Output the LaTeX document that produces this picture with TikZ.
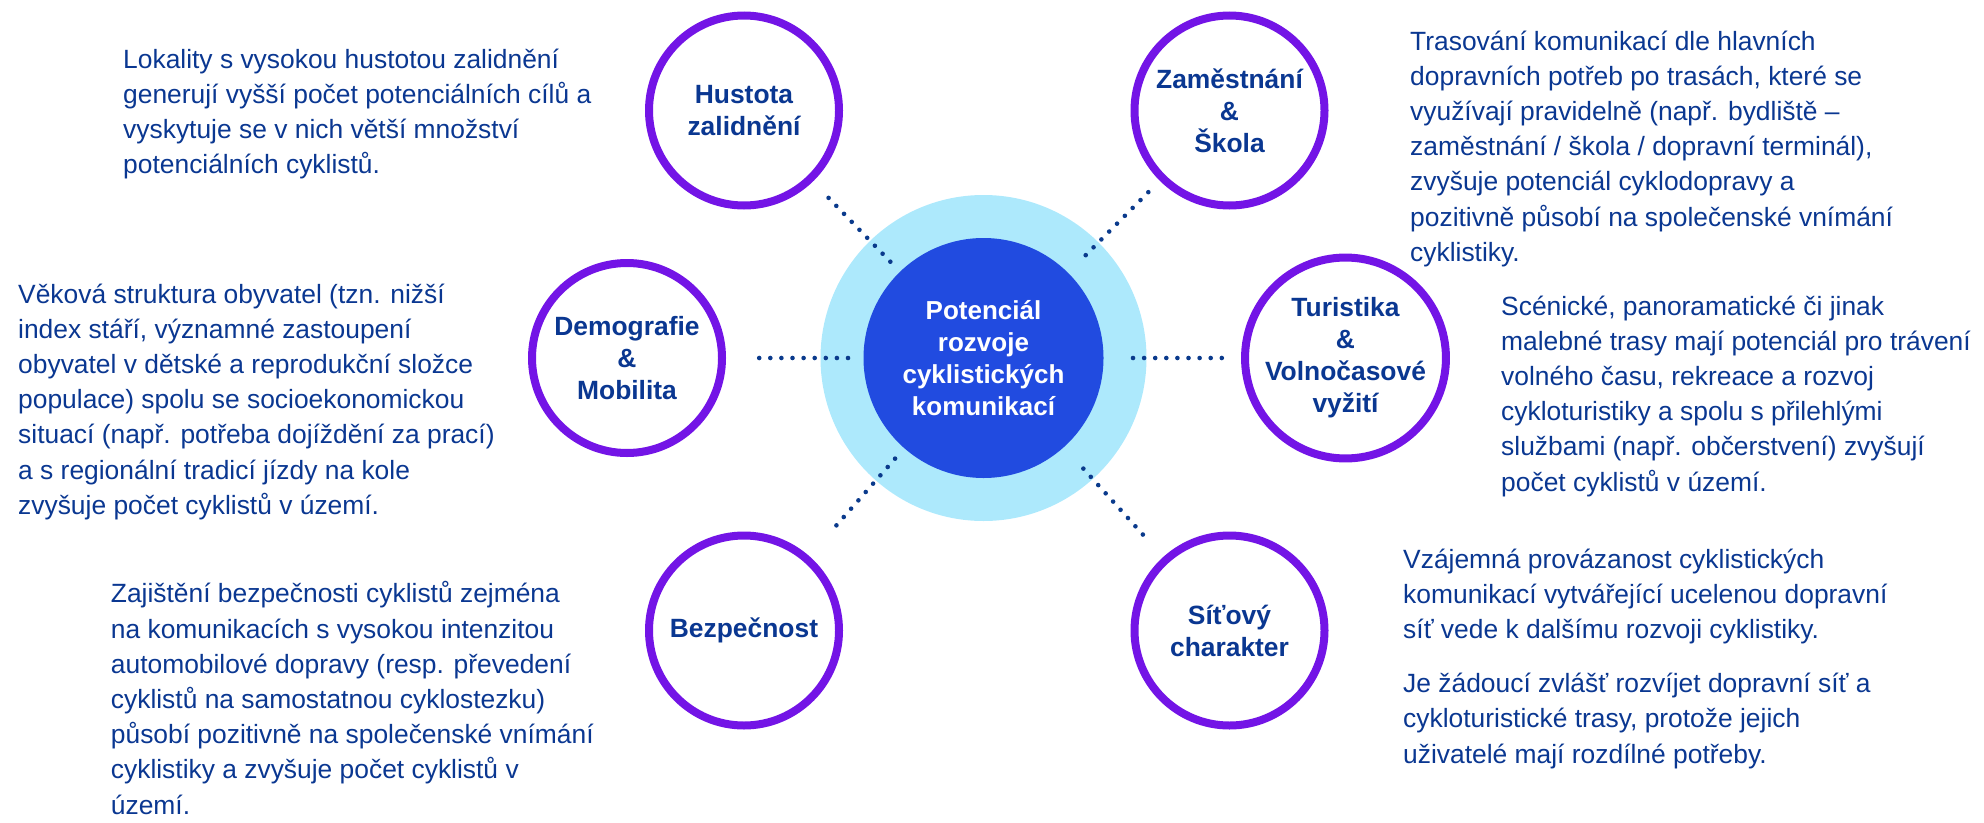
\documentclass[tikz,border=0pt]{standalone}
\usepackage{fontspec}
\setmainfont{Liberation Sans}
\usetikzlibrary{calc}
\definecolor{navy}{HTML}{0A3791}
\definecolor{ringpurple}{HTML}{7314E6}
\definecolor{lightring}{HTML}{ADE9FC}
\definecolor{corefill}{HTML}{214BE0}
\definecolor{dotnavy}{HTML}{0A3A8C}
\begin{document}
\begin{tikzpicture}[x=1pt,y=-1pt,
  topic/.style={circle, draw=ringpurple, line width=8pt, fill=white,
    minimum size=190pt, inner sep=0pt, align=center, text=navy,
    font=\bfseries\fontsize{26.4}{32}\selectfont},
  body/.style={anchor=base west, inner sep=0pt, align=left, text=navy,
    font=\fontsize{26.4}{35.2}\selectfont},
  dotline/.style={draw=dotnavy, line width=4.6pt, line cap=round,
    dash pattern=on 0pt off 11.1pt}]
\useasboundingbox (0,0) rectangle (1984,822);
% centre
\node[circle, fill=lightring, minimum size=326pt, inner sep=0pt] (halo) at (983.5,358) {};
\node[circle, fill=corefill, minimum size=240pt, inner sep=0pt, align=center,
  text=white, font=\bfseries\fontsize{26}{32}\selectfont] (core) at (983.5,358)
  {Potenciál\\rozvoje\\cyklistických\\komunikací};
% topics
\node[topic] (hust) at (744,110.5) {Hustota\\zalidnění};
\node[topic] (zam)  at (1229.5,110.5) {Zaměstnání\\\&\\Škola};
\node[topic] (demo) at (627,358) {Demografie\\\&\\Mobilita};
\node[topic] (turi) at (1345.5,358) {Turistika\\\&\\Volnočasové\\vyžití};
\node[topic] (bezp) at (744,630.5) {Bezpečnost};
\node[topic] (sit)  at (1229.5,630.5) {Síťový\\charakter};
% dotted connectors
\draw[dotline] ($(core.center)!134pt!(hust.center)$) -- ($(core.center)!223pt!(hust.center)$);
\draw[dotline] ($(core.center)!145pt!(zam.center)$) -- ($(core.center)!234pt!(zam.center)$);
\draw[dotline] ($(core.center)!135.5pt!(demo.center)$) -- ($(core.center)!224.5pt!(demo.center)$);
\draw[dotline] ($(core.center)!149.5pt!(turi.center)$) -- ($(core.center)!238.5pt!(turi.center)$);
\draw[dotline] ($(core.center)!134pt!(bezp.center)$) -- ($(core.center)!223pt!(bezp.center)$);
\draw[dotline] ($(core.center)!149pt!(sit.center)$) -- ($(core.center)!238pt!(sit.center)$);
% descriptions (anchored at the baseline of the last line)
\node[body] (t1) at (123,173.6) {Lokality s vysokou hustotou zalidnění\\
generují vyšší počet potenciálních cílů a\\
vyskytuje se v nich větší množství\\
potenciálních cyklistů.};
\node[body] (t2) at (18,514.2) {Věková struktura obyvatel (tzn. nižší\\
index stáří, významné zastoupení\\
obyvatel v dětské a reprodukční složce\\
populace) spolu se socioekonomickou\\
situací (např. potřeba dojíždění za prací)\\
a s regionální tradicí jízdy na kole\\
zvyšuje počet cyklistů v území.};
\node[body] (t3) at (110.7,814) {Zajištění bezpečnosti cyklistů zejména\\
na komunikacích s vysokou intenzitou\\
automobilové dopravy (resp. převedení\\
cyklistů na samostatnou cyklostezku)\\
působí pozitivně na společenské vnímání\\
cyklistiky a zvyšuje počet cyklistů v\\
území.};
\node[body] (t4) at (1410,261.2) {Trasování komunikací dle hlavních\\
dopravních potřeb po trasách, které se\\
využívají pravidelně (např. bydliště –\\
zaměstnání / škola / dopravní terminál),\\
zvyšuje potenciál cyklodopravy a\\
pozitivně působí na společenské vnímání\\
cyklistiky.};
\node[body] (t5) at (1501,491) {Scénické, panoramatické či jinak\\
malebné trasy mají potenciál pro trávení\\
volného času, rekreace a rozvoj\\
cykloturistiky a spolu s přilehlými\\
službami (např. občerstvení) zvyšují\\
počet cyklistů v území.};
\node[body] (t6) at (1403,763) {Vzájemná provázanost cyklistických\\
komunikací vytvářející ucelenou dopravní\\
síť vede k dalšímu rozvoji cyklistiky.\\[19pt]
Je žádoucí zvlášť rozvíjet dopravní síť a\\
cykloturistické trasy, protože jejich\\
uživatelé mají rozdílné potřeby.};
\end{tikzpicture}
\end{document}
